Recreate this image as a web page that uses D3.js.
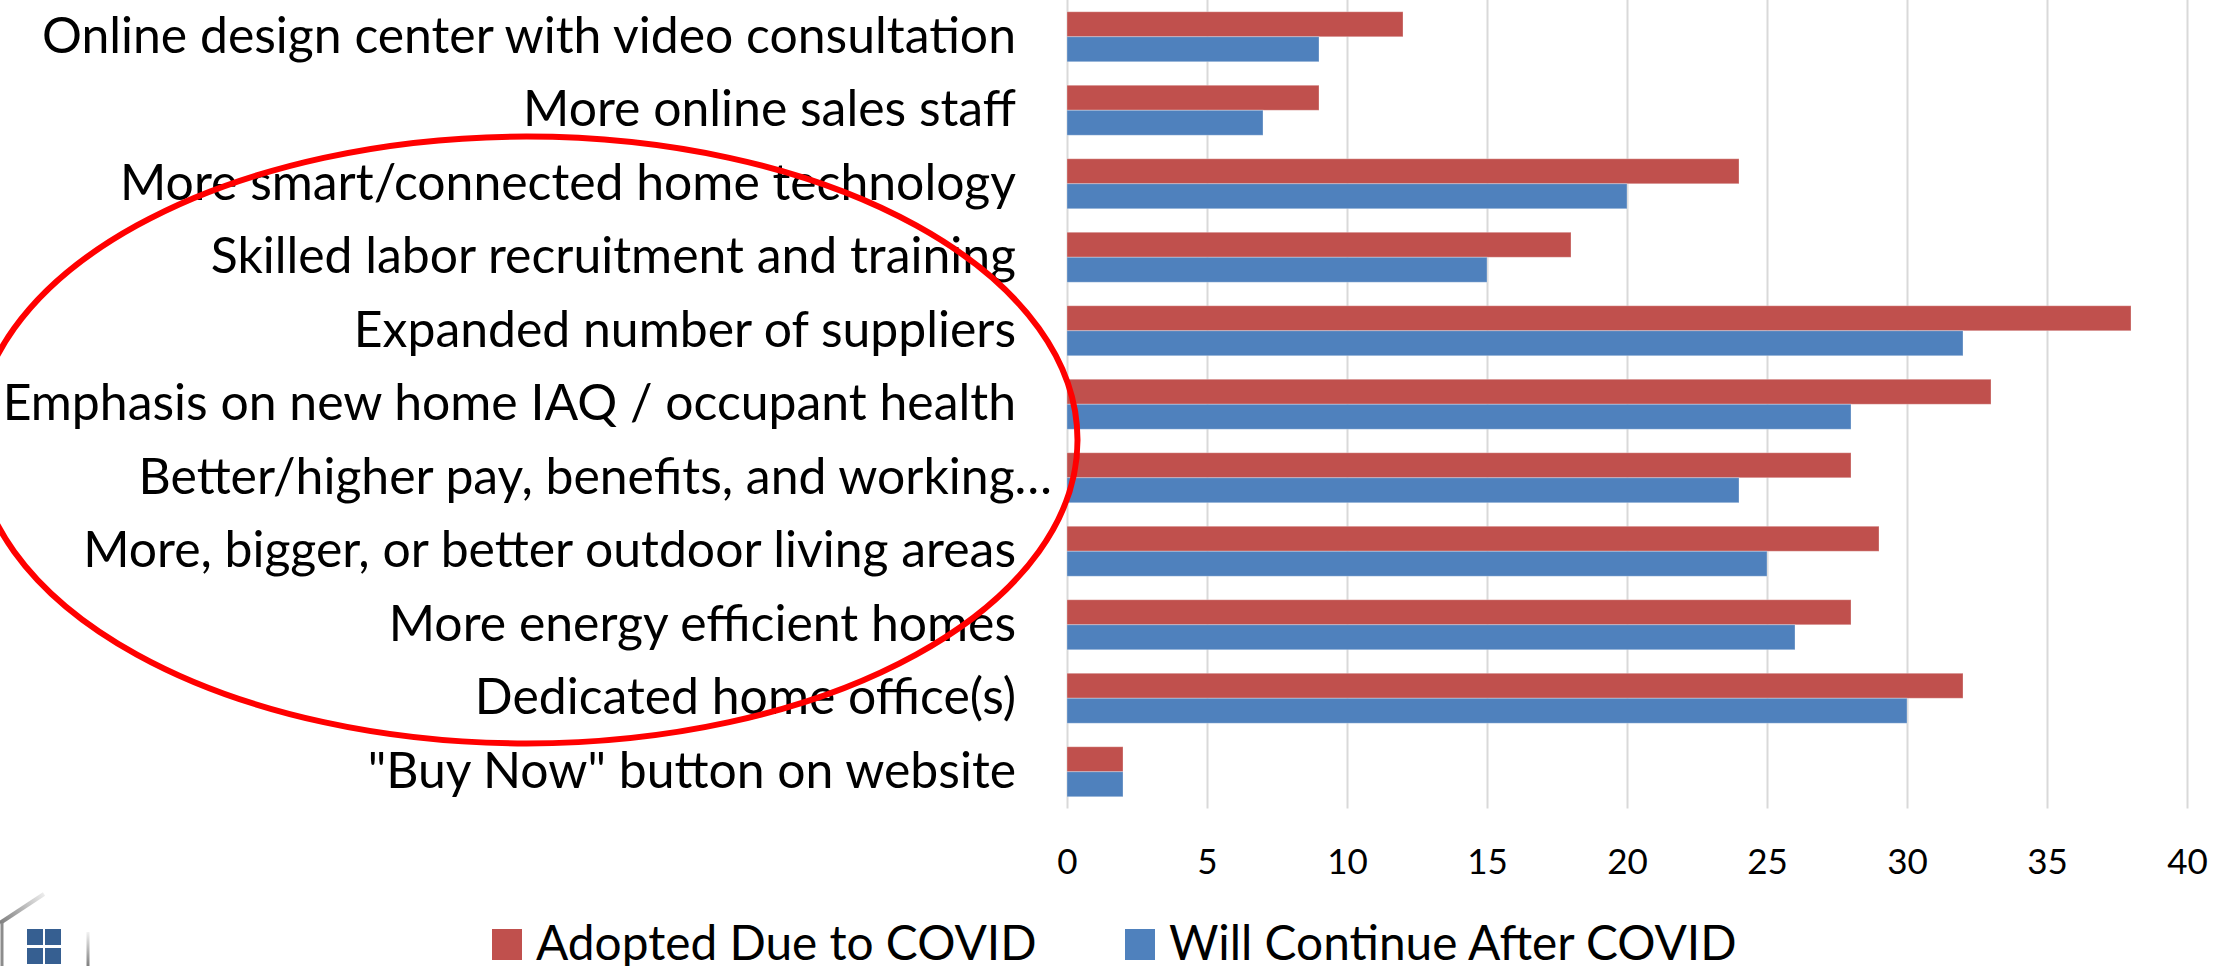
<!DOCTYPE html>
<html>
<head>
  <style>
    body { margin: 0; background: #fff; overflow: hidden; }
    text { font-family: Lato, Carlito, sans-serif; fill: #000; }
  </style>
</head>
<body>
  <svg id="chart" width="2236" height="966"></svg>
  <script src="https://d3js.org/d3.v7.min.js"></script>
  <script>
    const categories = [
      'Online design center with video consultation',
      'More online sales staff',
      'More smart/connected home technology',
      'Skilled labor recruitment and training',
      'Expanded number of suppliers',
      'Emphasis on new home IAQ / occupant health',
      'Better/higher pay, benefits, and working\u2026',
      'More, bigger, or better outdoor living areas',
      'More energy efficient homes',
      'Dedicated home office(s)',
      '"Buy Now" button on website'
    ];
    const adopted = [12, 9, 24, 18, 38, 33, 28, 29, 28, 32, 2];
    const willContinue = [9, 7, 20, 15, 32, 28, 24, 25, 26, 30, 2];
    const xTicks = [0, 5, 10, 15, 20, 25, 30, 35, 40];
    const seriesNames = ['Adopted Due to COVID', 'Will Continue After COVID'];
    const seriesColors = ['#c0504d', '#4f81bd'];

    const svg = d3.select('#chart');
    const x0 = 1067, gridBottom = 808.5;

    const x = d3.scaleLinear().domain([0, 40]).range([x0, 2187]);
    const y = d3.scaleBand().domain(categories).range([0, gridBottom]).paddingInner(0.32).paddingOuter(0.16);
    const ySeries = d3.scaleBand().domain(seriesNames).range([0, y.bandwidth()]);

    // gridlines + tick labels
    const xAxis = svg.append('g')
      .attr('transform', `translate(0,${gridBottom})`)
      .call(d3.axisBottom(x).tickValues(xTicks));
    xAxis.select('.domain').remove();
    xAxis.selectAll('line')
      .attr('y2', -gridBottom)
      .attr('stroke', '#d9d9d9')
      .attr('stroke-width', 2);
    xAxis.selectAll('text')
      .attr('y', 54)
      .attr('dy', '0.32em')
      .style('font-size', '35px');

    // bars
    [adopted, willContinue].forEach((values, s) => {
      svg.append('g').selectAll('rect')
        .data(values)
        .enter().append('rect')
        .attr('x', x(0))
        .attr('y', (d, i) => y(categories[i]) + ySeries(seriesNames[s]))
        .attr('width', d => x(d) - x(0))
        .attr('height', ySeries.bandwidth())
        .attr('fill', seriesColors[s])
        .attr('stroke', 'rgba(255,255,255,0.3)')
        .attr('stroke-width', 1);
    });

    // category labels
    const yAxis = svg.append('g')
      .attr('transform', 'translate(1016,0)')
      .call(d3.axisLeft(y).tickSize(0).tickPadding(0));
    yAxis.select('.domain').remove();
    yAxis.selectAll('text')
      .style('font-size', '49.9px')
      .attr('dy', '0.32em')
      .attr('x', d => d.endsWith('\u2026') ? 36 : 0);

    // red ellipse drawn over the labels, left end runs off the page
    svg.append('ellipse')
      .attr('cx', 526.5).attr('cy', 440)
      .attr('rx', 551).attr('ry', 303.5)
      .attr('fill', 'none')
      .attr('stroke', '#ff0000')
      .attr('stroke-width', 6);

    // legend
    const legendX = [492, 1125];
    const legend = svg.append('g').selectAll('g')
      .data(seriesNames)
      .enter().append('g')
      .attr('transform', (d, i) => `translate(${legendX[i]},929)`);
    legend.append('rect')
      .attr('width', 30).attr('height', 31)
      .attr('fill', (d, i) => seriesColors[i]);
    legend.append('text')
      .attr('x', 44).attr('y', 31)
      .style('font-size', '47.8px')
      .text(d => d);

    // logo corner, roof fades out towards the peak
    const fade = svg.append('defs').append('linearGradient')
      .attr('id', 'roof-fade').attr('gradientUnits', 'userSpaceOnUse')
      .attr('x1', 0).attr('y1', 922).attr('x2', 44).attr('y2', 894);
    fade.append('stop').attr('offset', 0).attr('stop-color', '#808080');
    fade.append('stop').attr('offset', 1).attr('stop-color', '#808080').attr('stop-opacity', 0.15);
    const wallFade = svg.select('defs').append('linearGradient')
      .attr('id', 'wall-fade').attr('gradientUnits', 'userSpaceOnUse')
      .attr('x1', 0).attr('y1', 932).attr('x2', 0).attr('y2', 966);
    wallFade.append('stop').attr('offset', 0).attr('stop-color', '#808080').attr('stop-opacity', 0.1);
    wallFade.append('stop').attr('offset', 1).attr('stop-color', '#808080');

    const logo = svg.append('g');
    logo.append('path')
      .attr('d', 'M0 923 L44 894')
      .attr('stroke', 'url(#roof-fade)')
      .attr('stroke-width', 4);
    logo.append('path')
      .attr('d', 'M2 923 L2 966')
      .attr('stroke', '#8c8c8c')
      .attr('stroke-width', 3);
    logo.append('path')
      .attr('d', 'M88 932 L88 966')
      .attr('stroke', 'url(#wall-fade)')
      .attr('stroke-width', 3);
    const panes = d3.cross([27, 45], [929, 948]);
    logo.selectAll('.pane')
      .data(panes)
      .enter().append('rect')
      .attr('x', d => d[0]).attr('y', d => d[1])
      .attr('width', 16).attr('height', 16)
      .attr('fill', '#365f91');
  </script>
</body>
</html>
